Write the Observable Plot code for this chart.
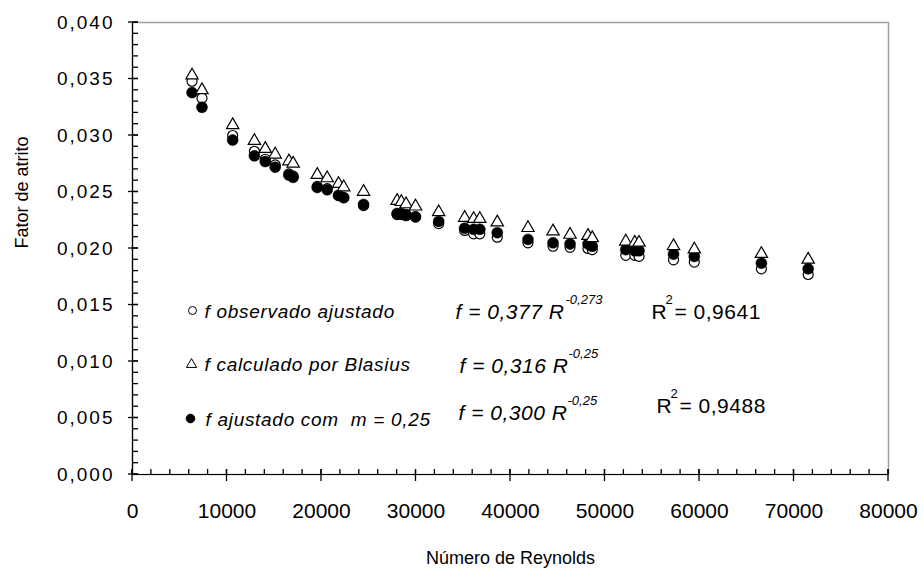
<!DOCTYPE html>
<html>
<head>
<meta charset="utf-8">
<script src="https://cdn.jsdelivr.net/npm/d3@7"></script>
<script src="https://cdn.jsdelivr.net/npm/@observablehq/plot@0.6"></script>
<style>
  html, body { margin: 0; padding: 0; background: #fff; }
  #chart svg { display: block; }
</style>
</head>
<body>
<div id="chart"></div>
<script>
// Reynolds number of each run
const reynolds = [6300, 7350, 10600, 12900, 14050, 15100, 16550, 17000, 19550, 20600,
  21800, 22350, 24450, 28000, 28450, 28950, 29950, 32400, 35150, 36100,
  36750, 38600, 41850, 44500, 46300, 48200, 48650, 52200, 53150, 53600,
  57250, 59450, 66550, 71500];
// f observado ajustado (open circles)
const fObservado = [0.0348, 0.0333, 0.0300, 0.0286, 0.0279, 0.0274, 0.0266, 0.0264, 0.0255, 0.0253,
  0.0247, 0.0245, 0.0238, 0.0230, 0.0230, 0.0229, 0.0228, 0.0222, 0.0216, 0.0213,
  0.0213, 0.0210, 0.0205, 0.0202, 0.0201, 0.0200, 0.0199, 0.0194, 0.0194, 0.0193,
  0.0190, 0.0188, 0.0182, 0.0177];
// f calculado por Blasius (open triangles)
const fBlasius = [0.0355, 0.0342, 0.0311, 0.0297, 0.0290, 0.0285, 0.0279, 0.0277, 0.0267, 0.0264,
  0.0259, 0.0256, 0.0252, 0.0244, 0.0243, 0.0241, 0.0239, 0.0234, 0.0229, 0.0228,
  0.0228, 0.0225, 0.0220, 0.0217, 0.0214, 0.0213, 0.0211, 0.0208, 0.0207, 0.0207,
  0.0204, 0.0201, 0.0197, 0.0192];
// f ajustado com m = 0,25 (filled dots)
const fAjustado = [0.0338, 0.0325, 0.0296, 0.0282, 0.0277, 0.0272, 0.0265, 0.0263, 0.0254, 0.0252,
  0.0247, 0.0245, 0.0239, 0.0231, 0.0231, 0.0230, 0.0228, 0.0224, 0.0218, 0.0217,
  0.0217, 0.0214, 0.0208, 0.0205, 0.0204, 0.0204, 0.0202, 0.0199, 0.0198, 0.0198,
  0.0195, 0.0193, 0.0187, 0.0182];

const xTicks = [0, 10000, 20000, 30000, 40000, 50000, 60000, 70000, 80000];
const xMinorTicks = d3.range(0, 80001, 2000);
const yTicks = [0, 0.005, 0.010, 0.015, 0.020, 0.025, 0.030, 0.035, 0.040];
const yMinorTicks = d3.range(0, 41).map(i => i / 1000);

const legendLabels = ["f observado ajustado", "f calculado por Blasius", "f ajustado com  m = 0,25"];
const equations = ["f = 0,377 R", "f = 0,316 R", "f = 0,300 R"];
const exponents = ["-0,273", "-0,25", "-0,25"];
const r2Values = ["= 0,9641", "= 0,9488"];
const xTitle = "Número de Reynolds";
const yTitle = "Fator de atrito";

const rows = reynolds.map((re, i) => ({re, obs: fObservado[i], bla: fBlasius[i], adj: fAjustado[i]}));
const fmtY = d => d.toFixed(3).replace(".", ",");

const W = 923, H = 576, ML = 132, MR = 35, MT = 22, MB = 102;
const TICK = "black";

function note(t, dx, dy, o = {}) {
  return Plot.text([t], {
    text: d => d, frameAnchor: "top-left", textAnchor: "start", lineAnchor: "middle",
    dx, dy, fill: "black", fontSize: o.size ?? 19, fontStyle: o.italic === false ? "normal" : "italic"
  });
}
function sym(symbol, dx, dy, r, fill) {
  return Plot.dot([0], {frameAnchor: "top-left", dx, dy, r, symbol, stroke: "black", strokeWidth: 1, fill});
}

// axis tick marks drawn through Plot's own scales
function tickMarks(index, scales, values, dim) {
  const g = d3.create("svg:g").attr("stroke", TICK).attr("stroke-width", 1.3).attr("fill", "none");
  const left = dim.marginLeft;
  const bottom = dim.height - dim.marginBottom;
  for (const t of yMinorTicks) {
    const y = scales.y(t);
    g.append("line").attr("x1", left).attr("x2", left + 6).attr("y1", y).attr("y2", y);
  }
  for (const t of yTicks) {
    const y = scales.y(t);
    g.append("line").attr("x1", left - 4).attr("x2", left + 6).attr("y1", y).attr("y2", y);
  }
  for (const t of xMinorTicks) {
    const x = scales.x(t);
    g.append("line").attr("x1", x).attr("x2", x).attr("y1", bottom - 5).attr("y2", bottom);
  }
  for (const t of xTicks) {
    const x = scales.x(t);
    g.append("line").attr("x1", x).attr("x2", x).attr("y1", bottom - 5).attr("y2", bottom + 7);
  }
  return g.node();
}

const chart = Plot.plot({
  width: W,
  height: H,
  marginLeft: ML,
  marginRight: MR,
  marginTop: MT,
  marginBottom: MB,
  style: {fontFamily: "'Liberation Sans', Arial, sans-serif", background: "#fff", color: "black", overflow: "visible"},
  x: {domain: [0, 80000]},
  y: {domain: [0, 0.04]},
  marks: [
    Plot.frame({stroke: "#a0a0a0", strokeWidth: 1.5}),
    Plot.ruleX([0], {stroke: "black", strokeWidth: 1.2}),
    Plot.ruleY([0], {stroke: "black", strokeWidth: 1.2}),
    tickMarks,
    Plot.axisY({ticks: yTicks, tickSize: 0, tickPadding: 18, tickFormat: fmtY, fontSize: 19, label: null}),
    Plot.axisX({ticks: xTicks, tickSize: 0, tickPadding: 29, tickFormat: d => String(d), fontSize: 21, label: null}),
    // titles
    Plot.text([yTitle], {text: d => d, frameAnchor: "left", rotate: -90, dx: -110, fontSize: 18, fill: "black"}),
    Plot.text([xTitle], {text: d => d, frameAnchor: "bottom", dy: 89, fontSize: 18, fill: "black"}),
    // data
    Plot.dot(rows, {x: "re", y: "obs", r: 5, symbol: "circle", stroke: "black", strokeWidth: 1.2, fill: "white"}),
    Plot.dot(rows, {x: "re", y: "adj", r: 5.5, symbol: "circle", fill: "black", stroke: "black", strokeWidth: 0.5}),
    Plot.dot(rows, {x: "re", y: "bla", r: 4.6, symbol: "triangle", stroke: "black", strokeWidth: 1.2, fill: "white", dy: 2}),
    // legend
    sym("circle", 60, 288, 4, "white"),
    note(legendLabels[0], 72, 289),
    sym("triangle", 59, 342, 3.8, "white"),
    note(legendLabels[1], 72, 342),
    sym("circle", 58, 396, 4.3, "black"),
    note(legendLabels[2], 73, 397),
    // equations
    note(equations[0], 323, 290, {size: 21}),
    note(exponents[0], 433, 277, {size: 13}),
    note(equations[1], 327, 344, {size: 21}),
    note(exponents[1], 436, 331, {size: 13}),
    note(equations[2], 326, 391, {size: 21}),
    note(exponents[2], 435, 378, {size: 13}),
    // R squared
    note("R", 519, 290, {size: 21, italic: false}),
    note("2", 533, 277, {size: 13, italic: false}),
    note(r2Values[0], 542, 290, {size: 21, italic: false}),
    note("R", 524, 384, {size: 21, italic: false}),
    note("2", 538, 371, {size: 13, italic: false}),
    note(r2Values[1], 547, 384, {size: 21, italic: false})
  ]
});
// letter spacing to mimic the original rendering
const sel = d3.select(chart);
sel.selectAll("text").each(function() {
  const t = this.textContent;
  let ls = null;
  if (/^0,0\d\d$/.test(t)) ls = "2px";
  else if (legendLabels.includes(t)) ls = "0.7px";
  else if (equations.includes(t) || r2Values.includes(t)) ls = "0.5px";
  if (ls) this.setAttribute("letter-spacing", ls);
});
document.getElementById("chart").appendChild(chart);
</script>
</body>
</html>
